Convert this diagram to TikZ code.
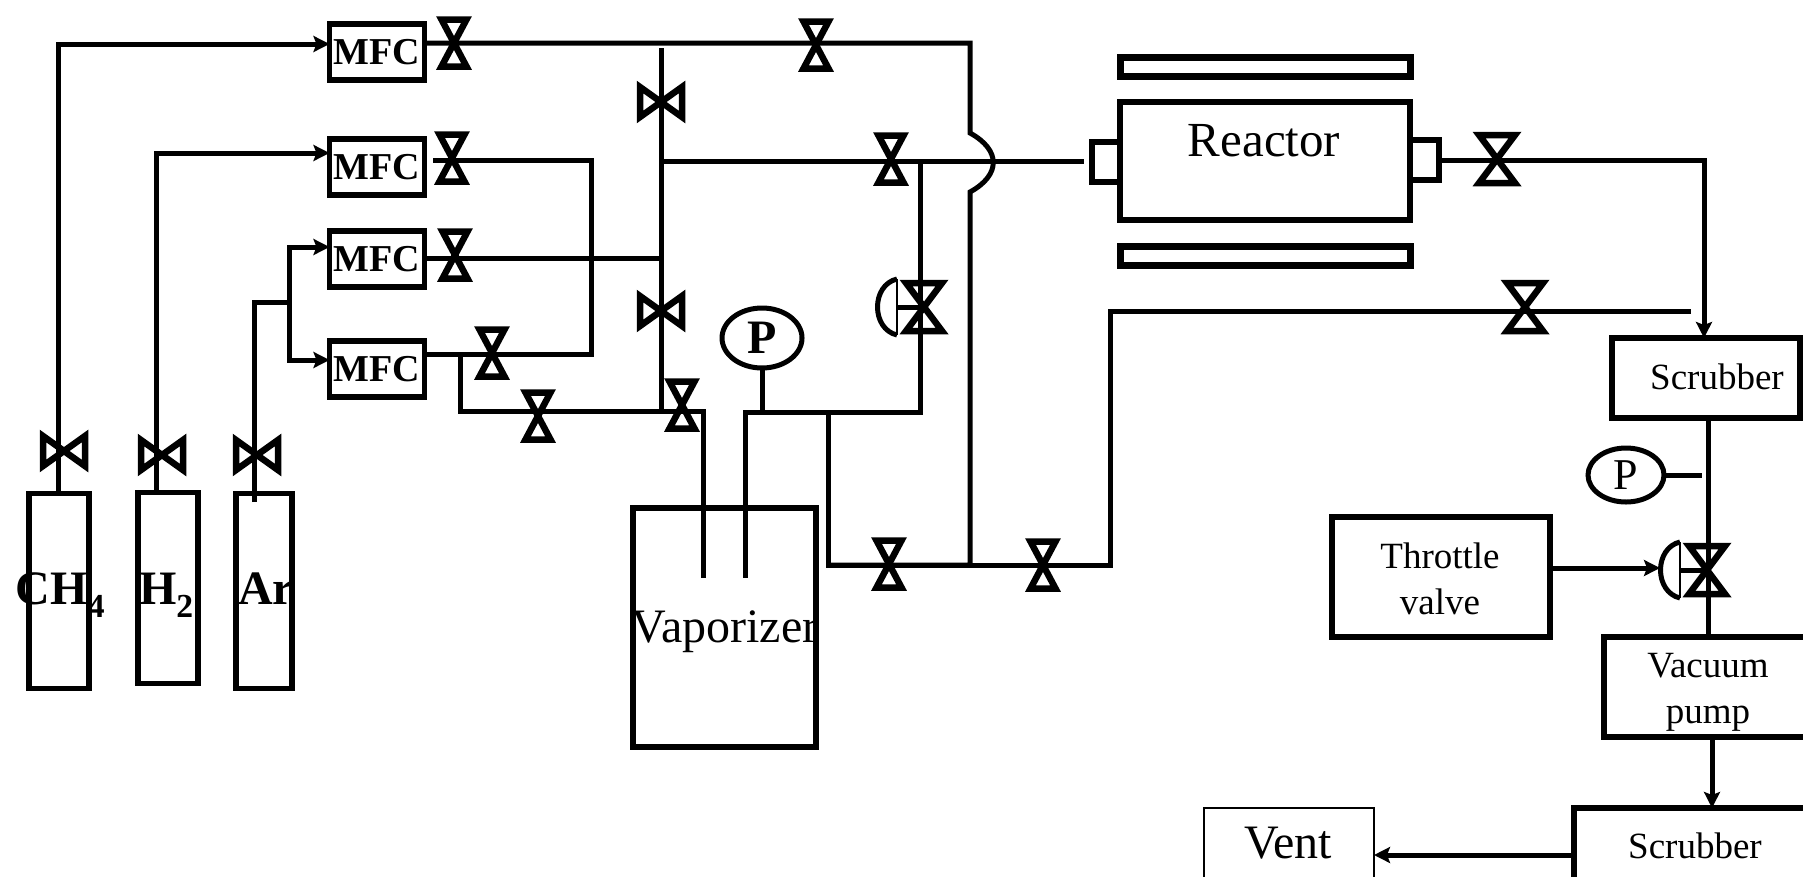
\documentclass[tikz,border=0pt]{standalone}
\usepackage{fontspec}
\setmainfont{Liberation Serif}
\usetikzlibrary{arrows.meta}
\tikzset{
  x=1pt,y=-1pt,
  pipe/.style={draw=black,line width=5pt,line join=miter,line cap=butt},
  flow/.style={pipe,-{Stealth[length=16pt,width=16pt,inset=3pt]}},
  unit/.style={draw=black,line width=5.5pt,inner sep=0pt,outer sep=0pt,fill=none},
  plate/.style={draw=black,line width=7pt,inner sep=0pt,outer sep=0pt,fill=none},
  thinunit/.style={draw=black,line width=2.5pt,inner sep=0pt,outer sep=0pt},
  bare/.style={inner sep=0pt,outer sep=0pt},
  lbl/.style={inner sep=0pt,outer sep=0pt,anchor=base},
  meter/.style={ellipse,draw=black,line width=5pt,inner sep=0pt,outer sep=0pt,fill=white},
  vbody/.style={draw=black,line width=6.5pt,line join=miter,fill=none},
  vert/.style={bare,minimum width=25pt,minimum height=47pt},
  horz/.style={bare,minimum width=42pt,minimum height=30pt},
  bigv/.style={bare,minimum width=36pt,minimum height=48pt},
  act/.style={draw=black,line width=5pt},
  actthin/.style={draw=black,line width=2.5pt},
}
\usetikzlibrary{shapes.geometric}
\newcommand{\vvalve}[3][vert]{\node[#1] (#2) at (#3) {};
  \draw[vbody] (#2.north west) -- (#2.north east) -- (#2.south west) -- (#2.south east) -- cycle;}
\newcommand{\hvalve}[2]{\node[horz] (#1) at (#2) {};
  \draw[vbody] (#1.north west) -- (#1.south west) -- (#1.north east) -- (#1.south east) -- cycle;}
\newcommand{\actuate}[1]{
  \draw[act] (#1.center) -- ++(-27,0);
  \draw[actthin] ([shift={(-27,-28)}]#1.center) -- ++(0,56);
  \draw[act] ([shift={(-27,-28)}]#1.center) .. controls +(-26,6) and +(-26,-6) .. ++(0,56);}
\newcommand{\fs}[1]{\fontsize{#1}{#1}\selectfont}
\begin{document}
\begin{tikzpicture}
\useasboundingbox (0,0) rectangle (1803,876);
\clip (0,0) rectangle (1803,876);
\fill[white] (0,0) rectangle (1803,876);

% units
\node[unit,minimum width=95pt,minimum height=56pt,font=\fs{38}\bfseries] (mfc1) at (377,52) {MFC};
\node[unit,minimum width=95pt,minimum height=56pt,font=\fs{38}\bfseries] (mfc2) at (377,167) {MFC};
\node[unit,minimum width=95pt,minimum height=56pt,font=\fs{38}\bfseries] (mfc3) at (377,259) {MFC};
\node[unit,minimum width=95pt,minimum height=56pt,font=\fs{38}\bfseries] (mfc4) at (377,369) {MFC};
\node[unit,minimum width=60pt,minimum height=195pt] (ch4) at (59,591) {};
\node[unit,minimum width=60pt,minimum height=191pt] (h2) at (168,588) {};
\node[unit,minimum width=56pt,minimum height=195pt] (ar) at (264,591) {};
\node[unit,minimum width=183pt,minimum height=239pt] (vap) at (724.5,627.5) {};
\node[unit,minimum width=290pt,minimum height=118pt] (reactor) at (1265,161) {};
\node[plate,minimum width=290pt,minimum height=19pt] (heatt) at (1265,67) {};
\node[plate,minimum width=290pt,minimum height=19pt] (heatb) at (1265,256) {};
\node[unit,minimum width=28pt,minimum height=40pt] (portl) at (1106,162) {};
\node[unit,minimum width=29pt,minimum height=40pt] (portr) at (1424.5,160) {};
\node[unit,minimum width=188pt,minimum height=80pt] (scr1) at (1706,378) {};
\node[unit,minimum width=218pt,minimum height=120pt] (thr) at (1441,577) {};
\node[unit,minimum width=260pt,minimum height=100pt] (vac) at (1734,687) {};
\node[unit,minimum width=290pt,minimum height=120pt] (scr2) at (1719,868) {};
\node[thinunit,minimum width=170pt,minimum height=120pt] (vent) at (1289,868) {};

% junctions
\coordinate (c1) at (58,44);
\coordinate (c2) at (156,153);
\coordinate (c3) at (254,302);
\coordinate (c4) at (289,302);
\coordinate (c4a) at (289,247);
\coordinate (c4b) at (289,360);
\coordinate (j1) at (970,43);
\coordinate (j1a) at (970,133);
\coordinate (j1b) at (970,192);
\coordinate (j1c) at (970,565);
\coordinate (j2) at (591,160);
\coordinate (j2b) at (591,354);
\coordinate (j3) at (460,354);
\coordinate (j3b) at (460,411);
\coordinate (j3c) at (703,411);
\coordinate (tube1) at (703,578);
\coordinate (tube2) at (745,578);
\coordinate (bus) at (661,48);
\coordinate (busb) at (661,411);
\coordinate (bush) at (661,161);
\coordinate (busm) at (661,258);
\coordinate (rin) at (1084,161);
\coordinate (k1) at (920,161);
\coordinate (k2) at (920,412);
\coordinate (k3) at (745,412);
\coordinate (k4) at (828,412);
\coordinate (k5) at (828,565);
\coordinate (k6) at (1110,565);
\coordinate (k7) at (1110,311);
\coordinate (k8) at (1691,311);
\coordinate (r1) at (1704,160);

% pipes
\draw[flow] (ch4.north -| c1) -- (c1) -- (mfc1.west |- c1);
\draw[flow] (h2.north -| c2) -- (c2) -- (mfc2.west |- c2);
\draw[pipe] (c3 |- 0,502) -- (c3) -- (c4);
\draw[flow] (c4) -- (c4a) -- (mfc3.west |- c4a);
\draw[flow] (c4) -- (c4b) -- (mfc4.west |- c4b);
\draw[pipe] (mfc1.east |- j1) -- (j1) -- (j1a) .. controls (1001,150) and (1001,175) .. (j1b) -- (j1c) -- (k5);
\draw[pipe] (433,160) -- (j2) -- (j2b) -- (mfc4.east |- j2b);
\draw[pipe] (mfc3.east |- busm) -- (busm);
\draw[pipe] (j3) -- (j3b) -- (j3c) -- (tube1);
\draw[pipe] (bus) -- (busb);
\draw[pipe] (bush) -- (rin);
\draw[pipe] (k1) -- (k2) -- (k3) -- (tube2);
\draw[pipe] (k4) -- (k5) -- (k6) -- (k7) -- (k8);
\draw[flow] (portr.east |- r1) -- (r1) -- (r1 |- scr1.north);
\draw[pipe] (scr1.south -| 1708,0) -- (vac.north -| 1708,0);
\draw[flow] (thr.east |- 0,568) -- (1660,568);
\draw[flow] (vac.south -| 1712,0) -- (scr2.north -| 1712,0);
\draw[flow] (scr2.west |- 0,855) -- (vent.east |- 0,855);

% meters
\node[meter,minimum width=80pt,minimum height=60pt,font=\fs{48}\bfseries] (p1) at (762,338) {P};
\draw[pipe] (p1.south) -- (p1.south |- k2);
\node[meter,minimum width=76pt,minimum height=54pt,font=\fs{44}] (p2) at (1626,475) {P};
\draw[pipe] (p2.east) -- (1702,475);

% valves
\vvalve{v1}{454,43}
\vvalve{v2}{816,45}
\vvalve{v3}{452,158}
\vvalve{v4}{455,255}
\vvalve{v5}{492,353}
\vvalve{v6}{538,416}
\vvalve{v7}{682,405}
\vvalve{v8}{891,159}
\vvalve{v9}{889,564}
\vvalve{v10}{1043,565}
\vvalve[bigv]{v11}{1497,159}
\vvalve[bigv]{v12}{1525,307}
\hvalve{h1}{661,102}
\hvalve{h2v}{661,311}
\hvalve{h3}{64,451}
\hvalve{h4}{162,455}
\hvalve{h5}{257,455}
\vvalve[bigv]{a1}{924,307}
\actuate{a1}
\vvalve[bigv]{a2}{1707,570}
\actuate{a2}

% texts
\node[lbl,font=\fs{49}] (treactor) at (1264,156) {Reactor};
\node[lbl,font=\fs{48}] (tvap) at (725,642) {Vaporizer};
\node[lbl,font=\fs{48}\bfseries,anchor=base west] (tch4) at (16,604) {CH\textsubscript{4}};
\node[lbl,font=\fs{48}\bfseries,anchor=base west] (th2) at (139,604) {H\textsubscript{2}};
\node[lbl,font=\fs{48}\bfseries,anchor=base west] (tar) at (238,604) {Ar};
\node[lbl,font=\fs{37}] (ts1) at (1717,389) {Scrubber};
\node[lbl,font=\fs{37}] (ts2) at (1695,858) {Scrubber};
\node[lbl,font=\fs{37}] (tt1) at (1440,568) {Throttle};
\node[lbl,font=\fs{37}] (tt2) at (1440,614) {valve};
\node[lbl,font=\fs{37}] (tv1) at (1708,677) {Vacuum};
\node[lbl,font=\fs{37}] (tv2) at (1708,723) {pump};
\node[lbl,font=\fs{48}] (tvent) at (1288,858) {Vent};
\end{tikzpicture}
\end{document}
